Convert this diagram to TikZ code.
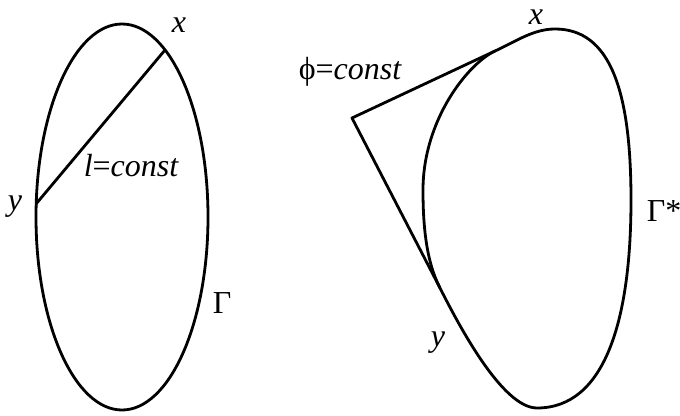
\documentclass[tikz,border=0pt]{standalone}
\usepackage{fontspec}
\setmainfont{Liberation Serif}
\newfontfamily\tnr{Liberation Serif}
\begin{document}
\begin{tikzpicture}[x=1pt,y=-1pt,
  curve/.style={line width=2.8pt,line join=round},
  lbl/.style={inner sep=0pt,font=\tnr\fontsize{32}{36}\selectfont}]
\useasboundingbox (0,0) rectangle (680,415);
% left figure
\draw[curve] (122,217) ellipse [x radius=86, y radius=193];
\coordinate (xL) at (165,50);
\coordinate (yL) at (36,204);
\draw[curve] (yL) -- (xL);
\node[lbl] (lx) at (179,25) {\itshape x};
\node[lbl] (ly) at (15,207) {\itshape y};
\node[lbl] (ll) at (131,166) {{\itshape l}={\itshape const}};
\node[lbl] (lG) at (222,303) {Γ};
% right figure
\coordinate (A) at (352,118);
\coordinate (T1) at (495,51);
\coordinate (T2) at (440,288);
\coordinate (Top) at (555,29);
\coordinate (R) at (631,200);
\coordinate (B) at (537,408);
\coordinate (L) at (423,190);
\draw[curve] (T1) .. controls (515,42) and (533,29) .. (Top)
  .. controls (610,29) and (631,90) .. (R)
  .. controls (631,320) and (605,408) .. (B)
  .. controls (502,408) and (458,323.5) .. (T2)
  .. controls (426,261) and (423,225) .. (L)
  .. controls (423,120) and (468,63.6) .. (T1) -- cycle;
\draw[curve] (T1) -- (A) -- (T2);
\node[lbl] (rx) at (536,17) {\itshape x};
\node[lbl] (ry) at (438,343) {\itshape y};
\node[lbl] (rp) at (350,72) {ϕ={\itshape const}};
\node[lbl] (rG) at (664,211) {Γ*};
\end{tikzpicture}
\end{document}
